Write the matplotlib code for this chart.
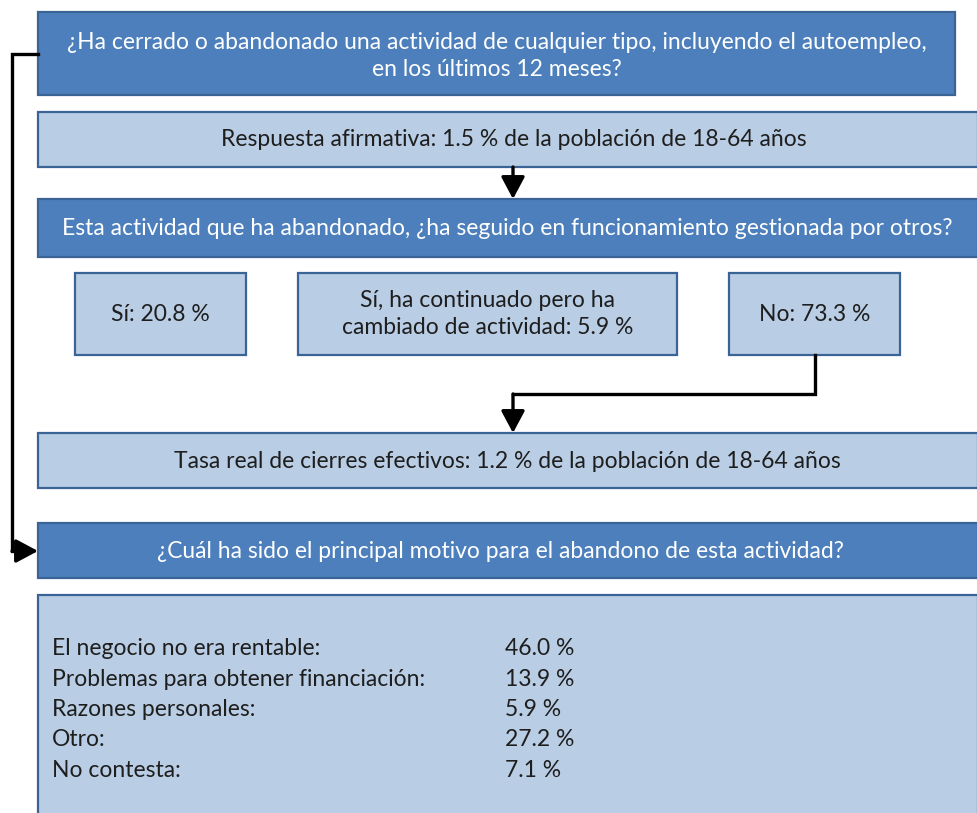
import matplotlib
matplotlib.use("Agg")
import matplotlib.pyplot as plt
from matplotlib.patches import Rectangle

plt.rcParams['font.family'] = ['Lato', 'DejaVu Sans']

# --- data ---
question_1 = "¿Ha cerrado o abandonado una actividad de cualquier tipo, incluyendo el autoempleo,\nen los últimos 12 meses?"
answer_1 = "Respuesta afirmativa: 1.5 % de la población de 18-64 años"
question_2 = "Esta actividad que ha abandonado, ¿ha seguido en funcionamiento gestionada por otros?"
options_2 = ["Sí: 20.8 %", "Sí, ha continuado pero ha\ncambiado de actividad: 5.9 %", "No: 73.3 %"]
real_rate = "Tasa real de cierres efectivos: 1.2 % de la población de 18-64 años"
question_3 = "¿Cuál ha sido el principal motivo para el abandono de esta actividad?"
reasons = ["El negocio no era rentable:", "Problemas para obtener financiación:",
           "Razones personales:", "Otro:", "No contesta:"]
reason_pct = [46.0, 13.9, 5.9, 27.2, 7.1]

DARK = '#4c7fbc'
LIGHT = '#b9cde5'
EDGE = '#3a6496'
TXT = '#1e1e1e'

fig = plt.figure(figsize=(9.78, 8.13), dpi=100)
ax = fig.add_axes([0, 0, 1, 1])
ax.set_xlim(0, 978)
ax.set_ylim(813, 0)
ax.axis('off')


def box(x0, y0, x1, y1, fc):
    ax.add_patch(Rectangle((x0, y0), x1 - x0, y1 - y0, facecolor=fc,
                           edgecolor=EDGE, linewidth=1.6, zorder=2))


def arrow(pts):
    # polyline with an arrow head on the last segment
    xs = [p[0] for p in pts]
    ys = [p[1] for p in pts]
    ax.plot(xs[:-1], ys[:-1], color='black', lw=2.4, solid_joinstyle='miter', zorder=3)
    ax.annotate('', xy=pts[-1], xytext=pts[-2],
                arrowprops=dict(arrowstyle='-|>,head_width=0.4,head_length=0.75',
                                mutation_scale=18, color='black', lw=2.4,
                                shrinkA=0, shrinkB=0),
                zorder=3)


fs = 16.5

# question 1
box(38, 12, 955, 95, DARK)
ax.text(497, 56, question_1, ha='center', va='center', color='white',
        fontsize=fs, linespacing=1.35, zorder=4)

# answer 1
box(38, 112, 978, 167, LIGHT)
ax.text(514, 140, answer_1, ha='center', va='center', color=TXT, fontsize=fs, zorder=4)
arrow([(513, 167), (513, 199)])

# question 2
box(38, 199, 978, 257, DARK)
ax.text(507, 228, question_2, ha='center', va='center', color='white', fontsize=fs, zorder=4)

# options
opt_x = [(75, 246), (298, 677), (729, 900)]
for (x0, x1), lab in zip(opt_x, options_2):
    box(x0, 273, x1, 355, LIGHT)
    ax.text((x0 + x1) / 2, 314, lab, ha='center', va='center', color=TXT,
            fontsize=fs, linespacing=1.3, zorder=4)

arrow([(815, 355), (815, 394), (513, 394), (513, 433)])

# real rate
box(38, 433, 978, 488, LIGHT)
ax.text(507, 461, real_rate, ha='center', va='center', color=TXT, fontsize=fs, zorder=4)

# question 3
box(38, 523, 978, 578, DARK)
ax.text(500, 551, question_3, ha='center', va='center', color='white', fontsize=fs, zorder=4)

arrow([(38, 54), (12, 54), (12, 551), (38, 551)])

# reasons
box(38, 595, 978, 830, LIGHT)
row_y = [648, 679, 709, 739, 770]
for y, lab, v in zip(row_y, reasons, reason_pct):
    ax.text(52, y, lab, ha='left', va='center', color=TXT, fontsize=fs, zorder=4)
    ax.text(505, y, f"{v:.1f} %", ha='left', va='center', color=TXT, fontsize=fs, zorder=4)

fig.savefig('out.png', dpi=100)
